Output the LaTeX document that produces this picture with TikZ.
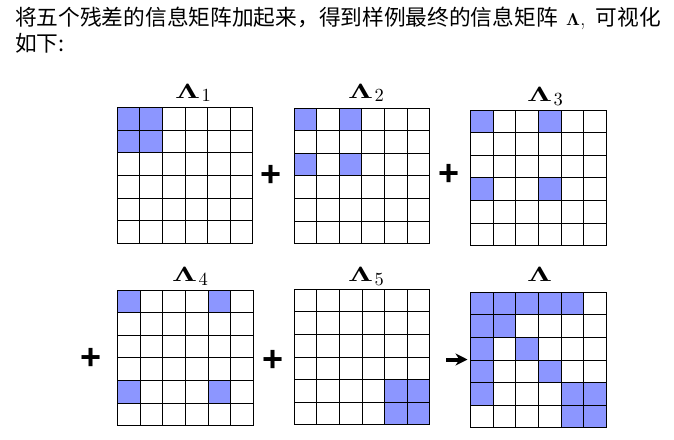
\documentclass[tikz,border=0pt]{standalone}
\usepackage[no-math]{fontspec}
\usepackage{graphicx}
\newfontfamily\cjk{Noto Sans CJK SC}
\newfontfamily\plusfont{Liberation Sans}
\usetikzlibrary{arrows.meta}
\definecolor{cellc}{RGB}{140,150,255}
\def\csz{22.6}
\newcommand{\LamB}{{\fontencoding{OT1}\fontfamily{cmr}\fontseries{bx}\fontshape{n}\fontsize{10}{12}\selectfont\char3}}
\newcommand{\lamlabel}[1]{\scalebox{3.1}[2.07]{\LamB}\kern1.5pt\raisebox{-3.4pt}{\scalebox{1.85}{\rmfamily\fontsize{10}{12}\selectfont #1}}}
\newcommand{\mgrid}[4]{%
  \begin{scope}[shift={(#2,#3)}]
    \foreach \r/\c in {#4} {\fill[cellc] (\c*\csz,\r*\csz) rectangle ++(\csz,\csz);}
    \foreach \i in {0,...,6} {
      \draw[gridline] (\i*\csz,0) -- (\i*\csz,6*\csz);
      \draw[gridline] (0,\i*\csz) -- (6*\csz,\i*\csz);
    }
    \node[gridbox] (#1) at (3*\csz,3*\csz) {};
  \end{scope}}
\begin{document}
\begin{tikzpicture}[x=1pt,y=-1pt,
  gridline/.style={line width=1pt,black,line cap=rect},
  gridbox/.style={minimum size=135.6pt,inner sep=0pt,draw=none},
  lab/.style={anchor=base west,inner sep=0pt},
  plussign/.style={inner sep=0pt,font=\plusfont\bfseries\fontsize{36}{36}\selectfont},
  txt/.style={anchor=base west,inner sep=0pt,font=\cjk\fontsize{21.7}{26}\selectfont},
  arr/.style={line width=4pt,-{Stealth[length=12pt,width=12pt]}}]
\fill[white] (0,0) rectangle (674,439);
\useasboundingbox (0,0) rectangle (674,439);

\node[txt] (t1) at (15,25.5) {将五个残差的信息矩阵加起来，得到样例最终的信息矩阵\hspace*{8.5pt}\scalebox{1.72}{\LamB}{\rmfamily ,}\hspace*{10.5pt}可视化};
\node[txt] (t2) at (15,51.5) {如下:};

\mgrid{g1}{117.3}{107.7}{0/0,0/1,1/0,1/1}
\mgrid{g2}{294}{108}{0/0,0/2,2/0,2/2}
\mgrid{g3}{470.7}{110}{0/0,0/3,3/0,3/3}
\mgrid{g4}{117.7}{290}{0/0,0/4,4/0,4/4}
\mgrid{g5}{294.3}{289.3}{4/4,4/5,5/4,5/5}
\mgrid{g6}{470.7}{292.3}{0/0,0/1,0/2,0/3,0/4,1/0,1/1,2/0,2/2,3/0,3/3,4/0,4/4,4/5,5/4,5/5}

\node[lab] (l1) at (175,98.3) {\lamlabel{1}};
\node[lab] (l2) at (348,98.3) {\lamlabel{2}};
\node[lab] (l3) at (527,101.7) {\lamlabel{3}};
\node[lab] (l4) at (172,281.7) {\lamlabel{4}};
\node[lab] (l5) at (348,281.7) {\lamlabel{5}};
\node[lab] (l6) at (527,281.7) {\scalebox{3.1}[2.07]{\LamB}};

\node[plussign] (p1) at (271,176) {+};
\node[plussign] (p2) at (449,175) {+};
\node[plussign] (p3) at (90.7,359) {+};
\node[plussign] (p4) at (273,361) {+};

\coordinate (a0) at (446,359.5);
\draw[arr,shorten >=3pt] (a0) -- (a0 -| g6.west);
\end{tikzpicture}
\end{document}
